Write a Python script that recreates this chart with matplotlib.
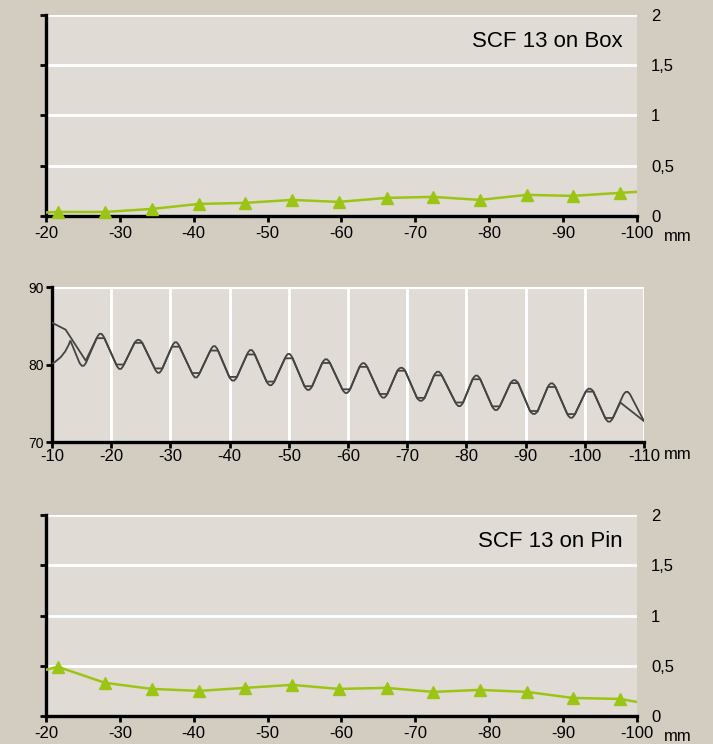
import matplotlib
matplotlib.use("Agg")
import matplotlib.pyplot as plt
from matplotlib.path import Path
from matplotlib.patches import PathPatch

plt.rcParams["font.family"] = ["Liberation Sans", "DejaVu Sans"]
plt.rcParams["axes.unicode_minus"] = False

# SCF position along the connection (mm)
scf_x = [-21.6, -28.0, -34.3, -40.7, -46.9, -53.3, -59.6, -66.1, -72.4, -78.7, -85.1, -91.3, -97.7]
box_scf = [0.04, 0.04, 0.07, 0.12, 0.13, 0.16, 0.14, 0.18, 0.19, 0.16, 0.21, 0.20, 0.23]
pin_scf = [0.49, 0.33, 0.27, 0.25, 0.28, 0.31, 0.27, 0.28, 0.24, 0.26, 0.24, 0.18, 0.17]
# line values at the panel edges (-20 and -100 mm)
box_edge = [0.035, 0.24]
pin_edge = [0.46, 0.14]

# thread profile: extremes shared by both curves (peak 1 .. trough 14)
ext_x = [-18.2, -21.5, -24.6, -28.0, -30.9, -34.3, -37.4, -40.6, -43.6, -46.9,
         -50.0, -53.3, -56.3, -59.7, -62.6, -66.0, -69.0, -72.3, -75.2, -78.8,
         -81.7, -85.0, -88.1, -91.4, -94.4, -97.7, -100.8, -104.1]
ext_round = [84.0, 79.4, 83.2, 78.9, 82.9, 78.3, 82.4, 77.9, 81.9, 77.3,
             81.4, 76.7, 80.7, 76.3, 80.2, 75.7, 79.6, 75.3, 79.1, 74.6,
             78.6, 74.1, 78.0, 73.6, 77.6, 73.1, 76.9, 72.6]
ext_flat = [83.4, 80.0, 82.8, 79.5, 82.3, 78.9, 81.8, 78.4, 81.3, 77.8,
            80.8, 77.2, 80.2, 76.8, 79.7, 76.2, 79.2, 75.7, 78.6, 75.1,
            78.1, 74.6, 77.6, 74.0, 77.1, 73.6, 76.5, 73.1]
# measured (flat topped) curve: start and end points
meas_start_x = [-10.0, -12.3, -15.7]
meas_start_y = [85.4, 84.5, 80.5]
meas_end_x = [-106.0, -110.0]
meas_end_y = [75.1, 72.7]
# fitted (rounded) curve: start arc, first trough, last peak, end
fit_start = [(-10.0, 80.1), (-12.2, 81.0), (-13.1, 83.1)]
fit_first = (-15.2, 79.8, 80.4)
fit_last = (-107.1, 76.5, 76.0)
fit_end = (-110.0, 72.7)

fig_bg = "#d3ccc0"
ax_bg = "#e0dcd5"
green = "#9cc414"
dark = "#444444"
cap_w = 0.65

fig = plt.figure(figsize=(7.13, 7.44), dpi=100, facecolor=fig_bg)


def scf_panel(rect, vals, edge, title):
    ax = fig.add_axes(rect, facecolor=ax_bg)
    xs = [-20] + scf_x + [-100]
    ys = [edge[0]] + vals + [edge[1]]
    ax.plot(xs, ys, color=green, lw=1.8, zorder=3)
    ax.plot(scf_x, vals, ls="none", marker="^", ms=9, color=green, zorder=4, clip_on=False)
    ax.set_xlim(-20, -100)
    ax.set_ylim(0, 2)
    ax.set_xticks(range(-20, -101, -10))
    ax.set_yticks([0, 0.5, 1, 1.5, 2])
    ax.set_yticklabels(["0", "0,5", "1", "1,5", "2"])
    ax.yaxis.grid(True, color="white", lw=2)
    ax.set_axisbelow(True)
    for s in ["top", "right"]:
        ax.spines[s].set_visible(False)
    for s in ["left", "bottom"]:
        ax.spines[s].set_linewidth(2.4)
        ax.spines[s].set_color("black")
    ax.tick_params(axis="y", left=True, right=False, labelleft=False, labelright=True,
                   length=4, width=2, pad=6, labelsize=12)
    ax.tick_params(axis="x", length=4, width=2, pad=3, labelsize=12)
    ax.text(0.975, 0.87, title, transform=ax.transAxes, ha="right", va="center", fontsize=16)
    ax.text(1.045, -0.1, "mm", transform=ax.transAxes, ha="left", va="center", fontsize=12)
    return ax


scf_panel([0.0645, 0.7097, 0.8289, 0.2702], box_scf, box_edge, "SCF 13 on Box")
scf_panel([0.0645, 0.0376, 0.8289, 0.2702], pin_scf, pin_edge, "SCF 13 on Pin")

# thread profile panel
ax = fig.add_axes([0.0729, 0.4059, 0.8303, 0.2083], facecolor=ax_bg)
mx = list(meas_start_x)
my = list(meas_start_y)
for x, f in zip(ext_x, ext_flat):
    mx += [x + cap_w, x - cap_w]
    my += [f, f]
mx += meas_end_x
my += meas_end_y
ax.plot(mx, my, color=dark, lw=1.3, zorder=3)

verts = [fit_start[0], fit_start[1], fit_start[2]]
codes = [Path.MOVETO, Path.CURVE3, Path.CURVE3]
caps = [fit_first] + list(zip(ext_x, ext_round, ext_flat)) + [fit_last]
for x, r, f in caps:
    verts += [(x + cap_w, f), (x, 2 * r - f), (x - cap_w, f)]
    codes += [Path.LINETO, Path.CURVE3, Path.CURVE3]
verts.append(fit_end)
codes.append(Path.LINETO)
ax.add_patch(PathPatch(Path(verts, codes), fill=False, edgecolor=dark, lw=1.3, zorder=3))

ax.set_xlim(-10, -110)
ax.set_ylim(70, 90)
ax.set_xticks(range(-10, -111, -10))
ax.set_yticks([70, 80, 90])
ax.xaxis.grid(True, color="white", lw=2)
ax.axhline(90, color="white", lw=3, zorder=1)
ax.set_axisbelow(True)
for s in ["top", "right"]:
    ax.spines[s].set_visible(False)
for s in ["left", "bottom"]:
    ax.spines[s].set_linewidth(2.4)
    ax.spines[s].set_color("black")
ax.tick_params(axis="y", length=4, width=2, pad=2, labelsize=10)
ax.tick_params(axis="x", length=4, width=2, pad=1, labelsize=12)
ax.text(1.033, -0.08, "mm", transform=ax.transAxes, ha="left", va="center", fontsize=12)

fig.savefig("out.png", dpi=100, facecolor=fig_bg)
